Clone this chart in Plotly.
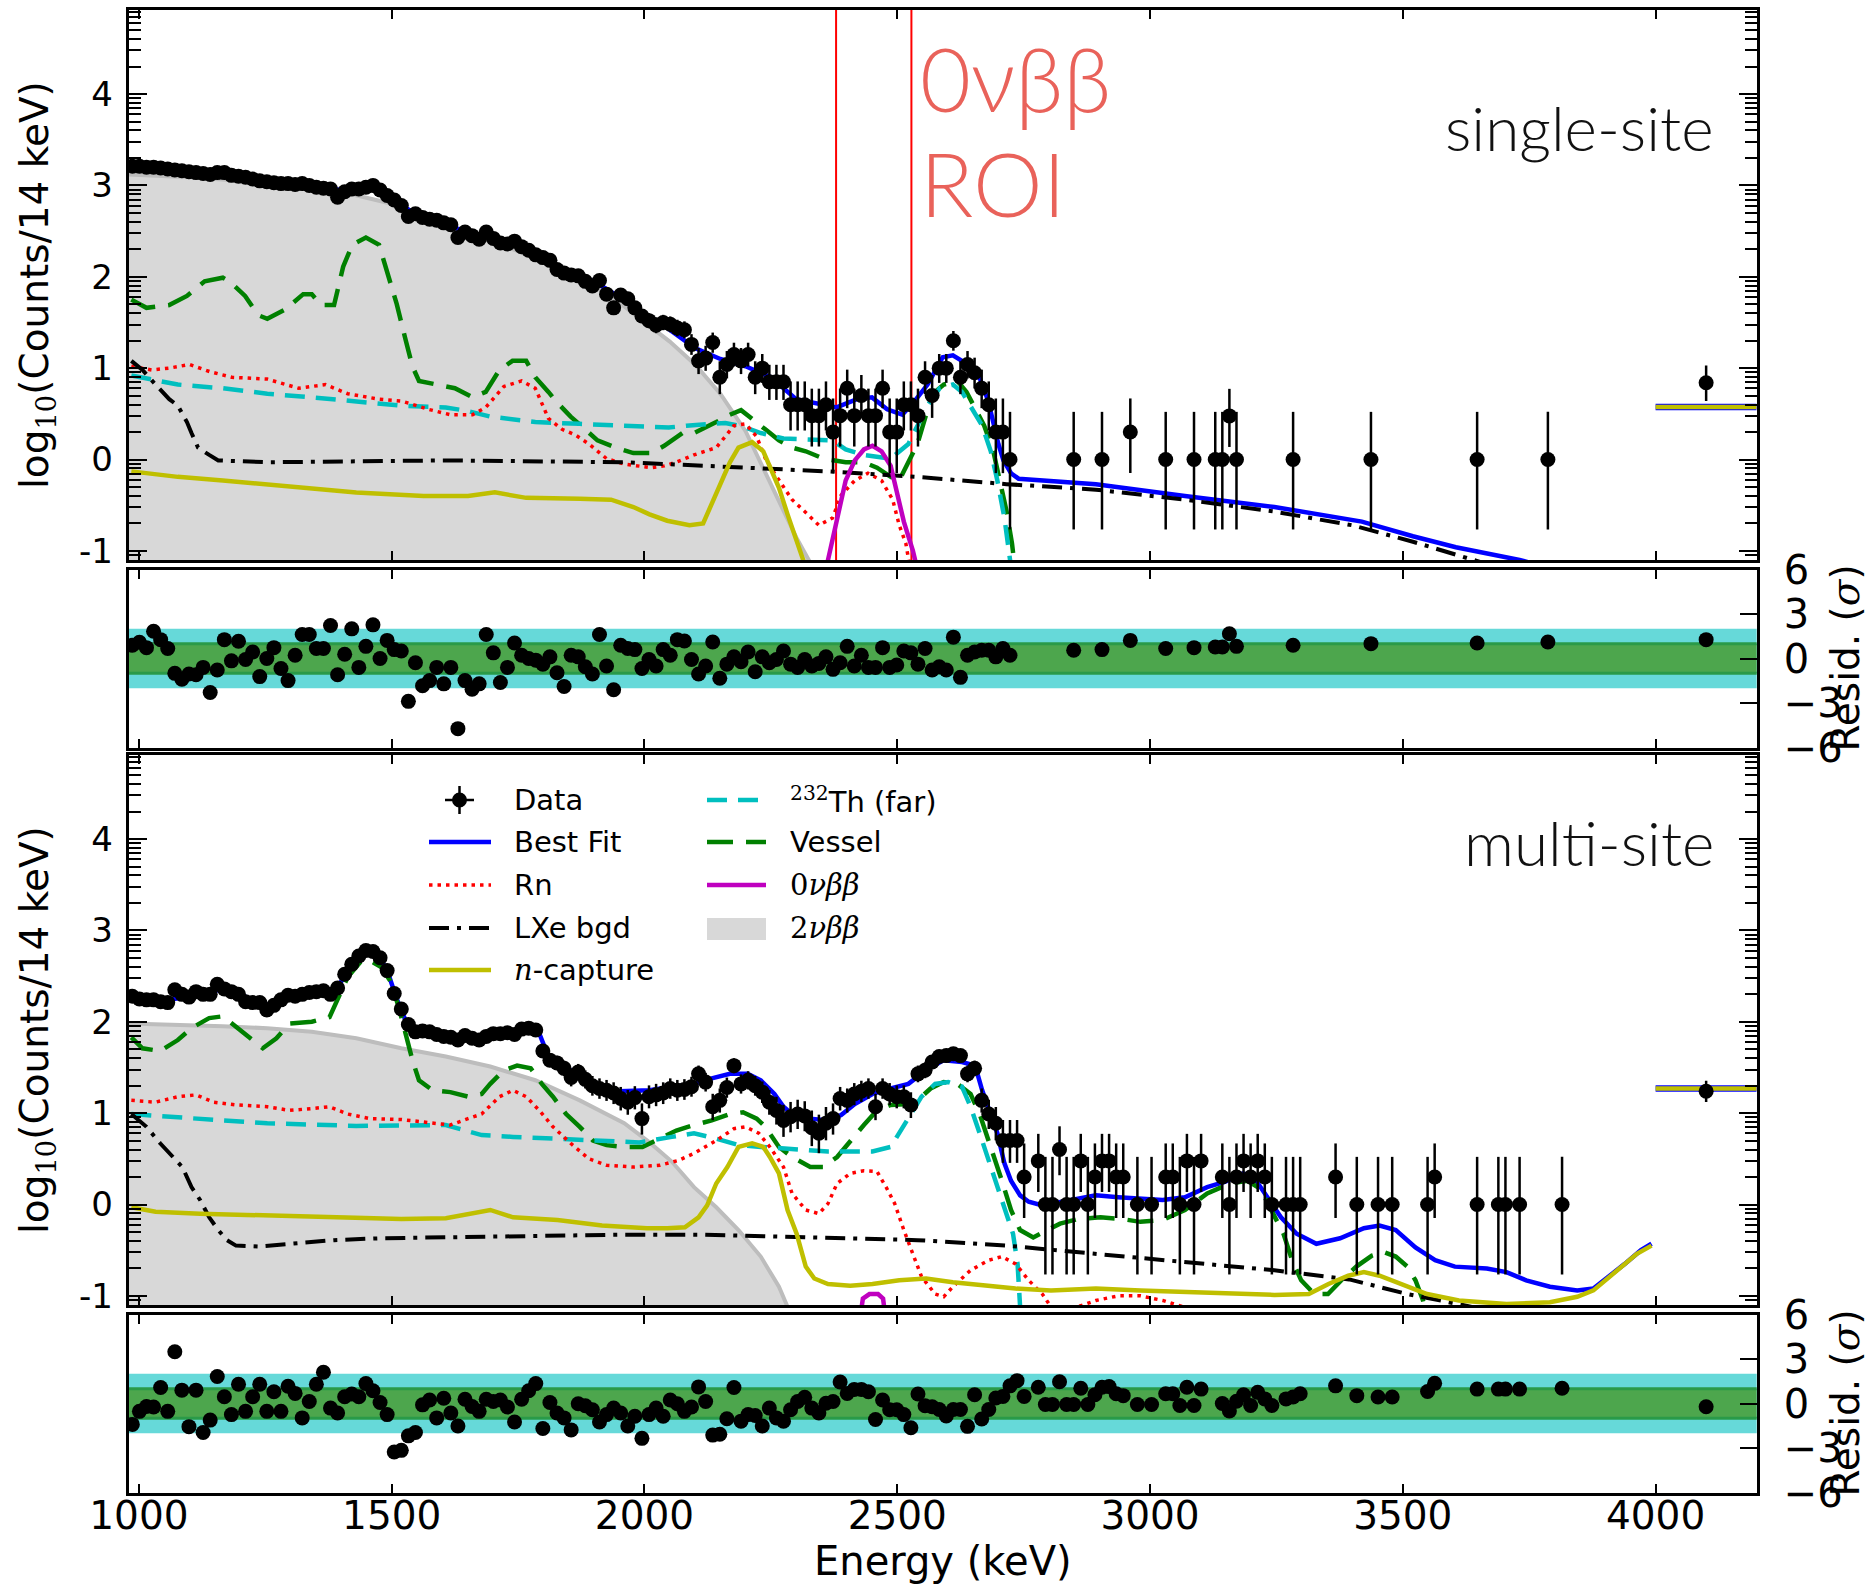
import numpy as np
import plotly.graph_objects as go

W, H = 1870, 1584

# ---------------- axis / binning values ----------------
E_RANGE = [980, 4200]
LOG_RANGE = [-1.1, 4.92]
RES_RANGE = [-6, 6]
X_TICKS = [1000, 1500, 2000, 2500, 3000, 3500, 4000]
Y_TICKS = [-1, 0, 1, 2, 3, 4]
Y_TICKTEXT = ['-1', '0', '1', '2', '3', '4']
RES_TICKS = [-6, -3, 0, 3, 6]
RES_TICKTEXT = ['\u22126', '\u22123', '0', '3', '6']
BIN_START = 987
BIN_WIDTH = 14
ROI = [2379, 2528]
OVF_E = [4000, 4200]
OVF_CENTER = 4100

# ---------------- single-site data ----------------
SS_DENSE = [3.21, 3.21, 3.20, 3.20, 3.19, 3.18, 3.17, 3.16, 3.15, 3.14,
            3.13, 3.12, 3.14, 3.14, 3.11, 3.10, 3.09, 3.07, 3.05, 3.04,
            3.03, 3.02, 3.02, 3.01, 3.02, 3.00, 2.98, 2.97, 2.96, 2.87,
            2.93, 2.96, 2.96, 2.98, 3.00, 2.95, 2.89, 2.84, 2.78, 2.66,
            2.69, 2.65, 2.63, 2.62, 2.59, 2.57, 2.43, 2.49, 2.45, 2.41,
            2.49, 2.42, 2.37, 2.36, 2.39, 2.33, 2.29, 2.24, 2.21, 2.18,
            2.08, 2.04, 2.02, 2.01, 1.95, 1.90, 1.96, 1.81, 1.66, 1.80,
            1.76, 1.66, 1.57, 1.52, 1.47, 1.50, 1.48, 1.44, 1.42, 1.26,
            1.08, 1.11, 1.28, 0.90, 1.04, 1.15, 1.08, 1.15, 0.90, 1.00,
            0.85, 0.85, 0.85, 0.60, 0.60, 0.60, 0.48, 0.48, 0.60, 0.30,
            0.48, 0.78, 0.48, 0.70, 0.48, 0.48, 0.78, 0.30, 0.30, 0.60,
            0.60, 0.48, 0.90, 0.70, 1.00, 1.00, 1.30, 0.90, 1.04, 0.95,
            0.78, 0.60, 0.30, 0.30, 0.00]
SS_RES_DENSE = [0.89, 1.1, 0.73, 1.84, 1.27, 0.67, -1.0, -1.4, -1.04, -1.1,
                -0.6, -2.29, -0.78, 1.27, -0.16, 1.16, -0.07, 0.44, -1.22, 0,
                0.73, -0.67, -1.49, 0.22, 1.62, 1.62, 0.67, 0.67, 2.22, -1.1,
                0.29, 2.0, -0.6, 0.82, 2.27, 0, 1.22, 0.6, 0.51, -2.89,
                -0.29, -1.84, -1.49, -0.6, -1.71, -0.6, -4.73, -1.49, -2.07, -1.71,
                1.62, 0.38, -1.62, -0.6, 1.04, 0.22, 0, -0.11, -0.38, 0.11,
                -0.96, -1.89, 0.22, 0.11, -0.56, -1.04, 1.62, -0.51, -2.11, 0.89,
                0.67, 0.6, -0.67, -0.07, -0.51, 0.6, 0.22, 1.27, 1.18, -0.07,
                -1.04, -0.51, 1.11, -1.33, -0.38, 0.11, -0.22, 0.44, -0.89, 0.11,
                -0.29, -0.07, 0.51, -0.38, -0.6, -0.07, -0.51, -0.33, 0.11, -0.73,
                -0.29, 0.82, -0.51, 0.22, -0.6, -0.6, 0.73, -0.6, -0.44, 0.51,
                0.38, -0.38, 0.67,
                -0.78, -0.56, -0.78, 1.44, -1.27, 0.22, 0.44, 0.56, 0.56, 0.11, 0.67, 0.22]
SS_SPARSE_E = [2849, 2905, 2961, 3031, 3087, 3129, 3143, 3157, 3171, 3283, 3437, 3647, 3787]
SS_SPARSE_V = [0, 0, 0.301, 0, 0, 0, 0, 0.477, 0, 0, 0, 0, 0]
SS_SPARSE_RES = [0.56, 0.6, 1.22, 0.67, 0.73, 0.78, 0.78, 1.67, 0.82, 0.89, 1.0, 1.04, 1.11]
SS_OVF_V = 0.84
SS_OVF_RES = 1.27
SS_OVF_MODEL = 0.575

# ---------------- single-site model components ----------------
SS_BEST_E = [980, 1050, 1100, 1150, 1200, 1250, 1300, 1350, 1400, 1430, 1460, 1490, 1520, 1550, 1600,
             1650, 1700, 1750, 1800, 1850, 1900, 1950, 2000, 2040, 2100, 2150, 2200, 2250, 2300, 2350,
             2380, 2420, 2450, 2480, 2510, 2530, 2560, 2590, 2610, 2640, 2660, 2680, 2700, 2710, 2725,
             2740, 2893, 3069, 3246, 3419, 3520, 3605, 3731, 3800]
SS_BEST_V = [3.21, 3.19, 3.16, 3.13, 3.10, 3.06, 3.02, 2.99, 2.95, 2.96, 2.98, 2.90, 2.78, 2.68, 2.59,
             2.49, 2.42, 2.34, 2.21, 2.05, 1.95, 1.78, 1.57, 1.46, 1.22, 1.10, 1.02, 0.90, 0.66, 0.60,
             0.57, 0.66, 0.68, 0.55, 0.49, 0.61, 0.82, 1.12, 1.14, 1.04, 0.94, 0.64, 0.17, -0.01, -0.15,
             -0.21, -0.27, -0.40, -0.52, -0.68, -0.84, -0.96, -1.10, -1.20]
SS_2NU_E = [980, 1100, 1200, 1300, 1400, 1450, 1500, 1550, 1600, 1650, 1700, 1750, 1800, 1850, 1900,
            1950, 2000, 2050, 2100, 2150, 2200, 2250, 2300, 2340]
SS_2NU_V = [3.12, 3.09, 3.05, 3.00, 2.93, 2.87, 2.80, 2.68, 2.57, 2.47, 2.38, 2.28, 2.16, 2.03, 1.90,
            1.72, 1.50, 1.29, 1.04, 0.72, 0.31, -0.28, -0.85, -1.25]
SS_VES_E = [985, 1015, 1060, 1095, 1130, 1166, 1179, 1210, 1236, 1254, 1289, 1325, 1342, 1360, 1386,
            1404, 1422, 1449, 1475, 1492, 1510, 1528, 1541, 1554, 1589, 1625, 1660, 1686, 1713, 1739,
            1766, 1784, 1810, 1828, 1854, 1881, 1907, 1943, 1978, 2013, 2039, 2075, 2098, 2142, 2169,
            2191, 2213, 2239, 2266, 2292, 2319, 2354, 2398, 2434, 2460, 2487, 2504, 2522, 2540, 2557,
            2575, 2592, 2619, 2637, 2654, 2672, 2690, 2703, 2716, 2727, 2735]
SS_VES_V = [1.75, 1.66, 1.69, 1.79, 1.95, 1.99, 1.95, 1.79, 1.58, 1.54, 1.64, 1.81, 1.81, 1.69, 1.69,
            2.11, 2.35, 2.43, 2.35, 2.03, 1.70, 1.30, 1.02, 0.86, 0.82, 0.78, 0.68, 0.74, 0.98, 1.08,
            1.08, 0.90, 0.74, 0.62, 0.47, 0.33, 0.21, 0.13, 0.07, 0.07, 0.15, 0.29, 0.29, 0.41, 0.49,
            0.54, 0.45, 0.33, 0.21, 0.13, 0.09, 0.01, -0.03, -0.03, -0.09, -0.19, -0.23, -0.03, 0.17, 0.49,
            0.74, 0.82, 0.86, 0.74, 0.57, 0.37, 0.09, -0.23, -0.56, -0.92, -1.3]
SS_TH_E = [985, 1077, 1166, 1254, 1342, 1430, 1519, 1607, 1651, 1695, 1784, 1872, 1960, 2048, 2083,
           2120, 2160, 2195, 2230, 2275, 2328, 2372, 2398, 2434, 2487, 2522, 2540, 2557, 2584, 2610,
           2628, 2646, 2668, 2685, 2698, 2712, 2720, 2728]
SS_TH_V = [0.92, 0.82, 0.78, 0.72, 0.68, 0.64, 0.59, 0.57, 0.53, 0.47, 0.41, 0.39, 0.37, 0.35, 0.37,
           0.38, 0.40, 0.36, 0.29, 0.23, 0.22, 0.21, 0.11, 0.05, 0.01, 0.17, 0.37, 0.57, 0.78, 0.82,
           0.74, 0.57, 0.37, 0.09, -0.23, -0.64, -1.04, -1.3]
SS_RN_E = [985, 1025, 1060, 1100, 1141, 1184, 1254, 1316, 1369, 1413, 1475, 1519, 1572, 1616, 1660,
           1686, 1722, 1757, 1784, 1810, 1837, 1863, 1890, 1925, 1960, 2013, 2039, 2063, 2098, 2142,
           2177, 2200, 2222, 2240, 2257, 2292, 2319, 2345, 2372, 2389, 2416, 2442, 2469, 2491, 2504,
           2517, 2522, 2530]
SS_RN_V = [1.02, 0.98, 1.00, 1.04, 0.96, 0.90, 0.88, 0.78, 0.82, 0.72, 0.66, 0.64, 0.55, 0.49, 0.49,
           0.57, 0.80, 0.86, 0.78, 0.45, 0.33, 0.27, 0.17, 0.01, -0.05, -0.09, -0.07, -0.03, 0.05, 0.13,
           0.37, 0.39, 0.25, 0.0, -0.15, -0.44, -0.58, -0.72, -0.64, -0.39, -0.23, -0.15, -0.23, -0.44, -0.72,
           -0.92, -1.08, -1.3]
SS_0NU_E = [2355, 2363, 2372, 2385, 2398, 2416, 2434, 2451, 2469, 2487, 2500, 2513, 2531, 2544]
SS_0NU_V = [-1.3, -1.1, -0.84, -0.54, -0.23, -0.01, 0.11, 0.15, 0.09, -0.07, -0.36, -0.68, -1.0, -1.3]
SS_NCAP_E = [985, 1077, 1166, 1254, 1342, 1430, 1563, 1651, 1704, 1766, 1872, 1934, 1978, 2010, 2045,
             2089, 2116, 2142, 2169, 2186, 2213, 2235, 2248, 2266, 2283, 2301, 2314, 2325]
SS_NCAP_V = [-0.13, -0.19, -0.23, -0.27, -0.31, -0.36, -0.40, -0.40, -0.36, -0.42, -0.43, -0.44, -0.52, -0.60, -0.67,
             -0.72, -0.70, -0.36, -0.03, 0.13, 0.19, 0.09, -0.07, -0.31, -0.60, -0.88, -1.10, -1.40]
SS_LXE_E = [985, 1007, 1033, 1060, 1077, 1095, 1104, 1117, 1139, 1157, 1254, 1607, 1960, 2186, 2363,
            2540, 2716, 2893, 3069, 3246, 3400, 3520, 3630, 3700]
SS_LXE_V = [1.08, 0.98, 0.82, 0.66, 0.59, 0.41, 0.29, 0.13, 0.05, -0.01, -0.03, -0.01, -0.03, -0.08, -0.13,
            -0.19, -0.27, -0.33, -0.44, -0.57, -0.72, -0.90, -1.08, -1.2]

# ---------------- multi-site data ----------------
MS_DENSE = [2.28, 2.25, 2.24, 2.24, 2.22, 2.21, 2.35, 2.30, 2.27, 2.33,
            2.30, 2.30, 2.41, 2.36, 2.33, 2.30, 2.22, 2.21, 2.21, 2.13,
            2.18, 2.24, 2.29, 2.28, 2.30, 2.32, 2.33, 2.34, 2.30, 2.37,
            2.52, 2.63, 2.72, 2.78, 2.77, 2.70, 2.56, 2.31, 2.14, 1.97,
            1.89, 1.90, 1.89, 1.86, 1.84, 1.83, 1.80, 1.85, 1.82, 1.80,
            1.84, 1.87, 1.87, 1.88, 1.86, 1.92, 1.93, 1.91, 1.68, 1.58,
            1.55, 1.49, 1.39, 1.45, 1.37, 1.30, 1.27, 1.25, 1.22, 1.16,
            1.12, 1.17, 0.94, 1.18, 1.20, 1.22, 1.27, 1.25, 1.26, 1.29,
            1.43, 1.34, 1.07, 1.14, 1.28, 1.52, 1.32, 1.36, 1.30, 1.23,
            1.12, 1.03, 0.92, 0.96, 0.99, 0.97, 0.84, 0.78, 0.89, 0.94,
            1.16, 1.14, 1.21, 1.24, 1.27, 1.07, 1.27, 1.21, 1.18, 1.18,
            1.09, 1.43, 1.47, 1.56, 1.62, 1.63, 1.65, 1.63, 1.43, 1.49,
            1.14, 0.99, 0.89, 0.70, 0.70, 0.70]
MS_RES_DENSE = [-1.41, -0.53, -0.2, -0.24, 1.08, -0.53, 3.49, 0.9, -1.56, 0.9,
                -1.96, -1.12, 1.82, 0.46, -0.75, 1.3, -0.53, 0.46, 1.3, -0.53,
                0.79, -0.53, 1.16, 0.68, -0.97, 0.13, 1.3, 2.11, -0.31, -0.64,
                0.46, 0.64, 0.46, 1.34, 0.86, 0.07, -0.75, -3.27, -3.16, -2.18,
                -1.96, -0.09, 0.24, -0.97, 0.35, -0.64, -1.52, 0.29, -0.2, -0.53,
                0.29, 0.13, 0.24, -0.24, -1.25, 0.29, 0.86, 1.34, -1.69, 0.07,
                -0.64, -0.97, -1.78, -0.02, -0.15, -0.42, -1.25, -0.75, -0.31, -0.64,
                -1.52, -0.86, -2.35, -0.75, -0.31, -0.86, 0.24, -0.02, -0.53, -0.24,
                1.12, 0.13, -2.13, -2.07, -1.03, 1.08, -1.19, -0.75, -0.81, -1.52,
                -0.31, -0.97, -1.19, -0.42, 0.13, 0.42, -0.31, -0.64, 0.02, 0.13,
                1.45, 0.68, 0.95, 0.95, 0.79, -1.08, 0.24, -0.42, -0.42, -0.75,
                -1.63, 0.64, -0.15,
                -0.22, -0.4, -0.84, -0.4, -0.4, -1.54, 0.59, -1.05, -0.4, 0.37, 0.48, 1.19, 1.54]
MS_SPARSE_E = [2751, 2779, 2793, 2807, 2821, 2835, 2849, 2863, 2877, 2891, 2905, 2919, 2933, 2947, 2975,
               3003, 3031, 3045, 3059, 3073, 3087, 3101, 3143, 3157, 3171, 3185, 3199, 3213, 3227, 3241,
               3269, 3283, 3297, 3367, 3409, 3451, 3479, 3549, 3563, 3647, 3689, 3703, 3731, 3815]
MS_SPARSE_V = [0.301, 0.477, 0, 0, 0.602, 0, 0, 0.477, 0, 0.301, 0.477, 0.477, 0.301, 0.301, 0,
               0, 0.301, 0.301, 0, 0.477, 0, 0.477, 0.301, 0, 0.301, 0.477, 0.301, 0.477, 0.301, 0,
               0, 0, 0, 0.301, 0, 0, 0, 0, 0.301, 0, 0, 0, 0, 0]
MS_SPARSE_RES = [0.48, 1.1, -0.07, -0.07, 1.47, -0.07, -0.07, 1.03, -0.07, 0.59, 1.1, 1.14, 0.66, 0.53, -0.07,
                 -0.07, 0.66, 0.66, -0.13, 1.1, -0.13, 0.97, 0, -0.51, 0.15, 0.59, -0.13, 0.75, 0.31, -0.13,
                 0.31, 0.44, 0.66, 1.19, 0.53, 0.44, 0.44, 0.81, 1.36, 0.97, 0.97, 0.97, 0.97, 1.03]
MS_OVF_V = 1.24
MS_OVF_RES = -0.22
MS_OVF_MODEL = 1.27

# ---------------- multi-site model components ----------------
MS_BEST_E = [980, 1050, 1100, 1160, 1200, 1250, 1300, 1350, 1390, 1420, 1450, 1470, 1490, 1510, 1530,
             1550, 1600, 1650, 1700, 1750, 1790, 1810, 1850, 1900, 1950, 2010, 2054, 2098, 2133, 2169,
             2204, 2230, 2257, 2275, 2292, 2328, 2363, 2389, 2416, 2451, 2487, 2522, 2557, 2592, 2628,
             2654, 2668, 2681, 2698, 2712, 2725, 2743, 2760, 2787, 2849, 2893, 2937, 2981, 3025, 3069,
             3113, 3149, 3184, 3205, 3228, 3259, 3290, 3329, 3376, 3423, 3454, 3486, 3525, 3564, 3603,
             3666, 3705, 3744, 3791, 3845, 3877, 3908, 3939, 3971, 3992]
MS_BEST_V = [2.28, 2.23, 2.28, 2.35, 2.30, 2.18, 2.27, 2.32, 2.36, 2.60, 2.76, 2.74, 2.58, 2.25, 1.98,
             1.90, 1.86, 1.83, 1.86, 1.90, 1.90, 1.62, 1.48, 1.33, 1.24, 1.25, 1.29, 1.32, 1.38, 1.43,
             1.43, 1.36, 1.21, 1.07, 0.99, 0.94, 0.92, 0.98, 1.10, 1.21, 1.27, 1.32, 1.47, 1.58, 1.56,
             1.52, 1.25, 1.03, 0.78, 0.45, 0.26, 0.10, 0.03, -0.01, 0.05, 0.10, 0.08, 0.06, 0.05, 0.08,
             0.19, 0.25, 0.34, 0.30, 0.12, -0.14, -0.32, -0.43, -0.37, -0.26, -0.23, -0.28, -0.47, -0.61, -0.68,
             -0.70, -0.74, -0.83, -0.90, -0.94, -0.92, -0.79, -0.65, -0.50, -0.43]
MS_2NU_E = [980, 1077, 1166, 1254, 1342, 1430, 1519, 1607, 1695, 1784, 1872, 1960, 2010, 2054, 2098,
            2142, 2186, 2230, 2266, 2283, 2295]
MS_2NU_V = [1.98, 1.97, 1.95, 1.93, 1.89, 1.82, 1.71, 1.62, 1.51, 1.36, 1.14, 0.89, 0.68, 0.47, 0.19,
            -0.03, -0.28, -0.57, -0.90, -1.12, -1.4]
MS_VES_E = [985, 1007, 1042, 1077, 1104, 1139, 1166, 1192, 1219, 1245, 1272, 1298, 1342, 1377, 1395,
            1413, 1439, 1457, 1479, 1497, 1514, 1528, 1541, 1554, 1581, 1616, 1651, 1678, 1695, 1722,
            1748, 1775, 1797, 1819, 1845, 1872, 1898, 1925, 1960, 1996, 2036, 2063, 2098, 2133, 2169,
            2195, 2222, 2239, 2266, 2292, 2328, 2354, 2381, 2407, 2434, 2460, 2487, 2522, 2548, 2566,
            2592, 2619, 2645, 2663, 2676, 2690, 2707, 2725, 2743, 2769, 2796, 2822, 2857, 2902, 2946,
            2981, 3025, 3069, 3113, 3158, 3193, 3219, 3237, 3264, 3281, 3299, 3325, 3352, 3378, 3408,
            3439, 3462, 3486, 3509, 3525, 3540, 3550]
MS_VES_V = [1.83, 1.71, 1.68, 1.80, 1.93, 2.04, 2.06, 1.94, 1.83, 1.71, 1.82, 1.98, 2.00, 2.05, 2.27,
            2.49, 2.66, 2.67, 2.60, 2.45, 2.16, 1.87, 1.58, 1.36, 1.25, 1.23, 1.18, 1.21, 1.32, 1.47,
            1.52, 1.49, 1.32, 1.18, 0.99, 0.85, 0.70, 0.65, 0.63, 0.63, 0.74, 0.81, 0.87, 0.92, 0.99,
            1.01, 0.94, 0.85, 0.63, 0.52, 0.41, 0.41, 0.52, 0.70, 0.87, 1.03, 1.09, 1.10, 1.18, 1.27,
            1.34, 1.32, 1.21, 0.99, 0.78, 0.56, 0.26, -0.06, -0.28, -0.36, -0.28, -0.21, -0.16, -0.14, -0.16,
            -0.19, -0.17, -0.06, 0.12, 0.23, 0.26, 0.17, -0.03, -0.32, -0.61, -0.83, -0.98, -0.98, -0.83, -0.68,
            -0.56, -0.52, -0.57, -0.68, -0.83, -1.05, -1.3]
MS_TH_E = [985, 1077, 1166, 1254, 1342, 1430, 1607, 1642, 1678, 1740, 1828, 1916, 1990, 2054, 2098,
           2142, 2186, 2230, 2275, 2319, 2363, 2407, 2451, 2487, 2504, 2522, 2548, 2575, 2601, 2628,
           2645, 2663, 2681, 2698, 2716, 2729, 2738, 2743, 2746]
MS_TH_V = [0.99, 0.95, 0.92, 0.89, 0.87, 0.86, 0.87, 0.81, 0.76, 0.74, 0.72, 0.70, 0.68, 0.74, 0.78,
           0.72, 0.65, 0.63, 0.61, 0.59, 0.58, 0.58, 0.58, 0.63, 0.78, 0.96, 1.18, 1.32, 1.34, 1.29,
           1.07, 0.78, 0.48, 0.19, -0.10, -0.32, -0.65, -1.12, -1.4]
MS_RN_E = [985, 1033, 1077, 1113, 1148, 1192, 1254, 1298, 1342, 1377, 1413, 1457, 1519, 1572, 1616,
           1651, 1678, 1713, 1740, 1766, 1792, 1819, 1854, 1890, 1925, 1978, 2031, 2066, 2098, 2142,
           2177, 2200, 2226, 2248, 2275, 2292, 2319, 2345, 2363, 2381, 2407, 2434, 2460, 2478, 2495,
           2513, 2531, 2548, 2575, 2592, 2610, 2645, 2681, 2707, 2734, 2760, 2787, 2804, 2815,
           2845, 2857, 2893, 2937, 2981, 3025, 3065, 3080]
MS_RN_V = [1.14, 1.12, 1.18, 1.20, 1.12, 1.09, 1.07, 1.03, 1.05, 1.07, 0.99, 0.94, 0.93, 0.90, 0.87,
           0.94, 0.99, 1.18, 1.25, 1.18, 1.03, 0.85, 0.67, 0.50, 0.43, 0.41, 0.43, 0.48, 0.56, 0.70,
           0.83, 0.85, 0.78, 0.63, 0.41, 0.12, -0.06, -0.10, 0.01, 0.23, 0.34, 0.37, 0.36, 0.19, 0.01,
           -0.28, -0.54, -0.79, -0.98, -1.01, -0.90, -0.72, -0.61, -0.57, -0.65, -0.83, -0.98, -1.12, -1.3,
           -1.3, -1.12, -1.05, -1.0, -1.0, -1.05, -1.12, -1.3]
MS_0NU_E = [2425, 2432, 2445, 2462, 2472, 2478]
MS_0NU_V = [-1.3, -1.03, -0.98, -0.98, -1.03, -1.3]
MS_NCAP_E = [985, 1033, 1121, 1254, 1386, 1519, 1607, 1651, 1695, 1740, 1828, 1916, 2005, 2045, 2080,
             2107, 2124, 2142, 2164, 2186, 2213, 2235, 2248, 2266, 2283, 2301, 2319, 2336, 2363, 2407,
             2451, 2504, 2557, 2610, 2672, 2734, 2804, 2893, 2981, 3069, 3158, 3246, 3314, 3353, 3392,
             3423, 3454, 3494, 3548, 3611, 3705, 3791, 3845, 3877, 3900, 3931, 3963, 3992]
MS_NCAP_V = [-0.03, -0.08, -0.10, -0.12, -0.14, -0.16, -0.15, -0.10, -0.06, -0.14, -0.17, -0.23, -0.26, -0.26, -0.25,
             -0.14, -0.01, 0.23, 0.41, 0.63, 0.67, 0.63, 0.52, 0.34, -0.06, -0.32, -0.68, -0.81, -0.87, -0.89,
             -0.87, -0.83, -0.81, -0.85, -0.89, -0.92, -0.94, -0.92, -0.94, -0.96, -0.98, -0.99, -0.98, -0.87, -0.78,
             -0.74, -0.78, -0.87, -0.98, -1.05, -1.09, -1.07, -1.01, -0.94, -0.83, -0.68, -0.54, -0.45]
MS_LXE_E = [985, 1015, 1042, 1068, 1086, 1104, 1121, 1139, 1157, 1174, 1192, 1236, 1298, 1386, 1475,
            1607, 1784, 1960, 2108, 2275, 2540, 2716, 2893, 3069, 3246, 3394, 3509, 3619, 3700]
MS_LXE_V = [0.99, 0.85, 0.67, 0.52, 0.41, 0.19, 0.05, -0.14, -0.28, -0.39, -0.45, -0.46, -0.43, -0.39, -0.37,
            -0.36, -0.34, -0.33, -0.33, -0.35, -0.39, -0.45, -0.54, -0.63, -0.72, -0.82, -0.98, -1.10, -1.2]

# ---------------- styles ----------------
C_BLUE, C_GREEN, C_RED, C_CYAN = '#0000FF', '#008000', '#FF0000', '#00BFBF'
C_MAG, C_YEL, C_BLACK = '#BF00BF', '#BFBF00', '#000000'
C_GRAY_FILL, C_GRAY_EDGE = '#D8D8D8', '#BDBDBD'
C_BAND2, C_BAND1, C_BAND1_EDGE = '#66D9D9', '#4DA64D', '#2A9A48'
C_ROI_TEXT = '#E9625A'
LW = 4.5
DASH_TH = '20px,11px'
DASH_VES = '26px,13px'
DASH_RN = '3.5px,5px'
DASH_LXE = '20px,8px,4px,8px'
SANS = 'DejaVu Sans'


def px(x):
    return x / W


def py(y):
    return 1 - y / H


X_DOM = [px(128.8), px(1756.7)]
DOM_TOP = [py(560), py(10)]
DOM_R1 = [py(747.5), py(569.5)]
DOM_MID = [py(1305), py(755)]
DOM_R2 = [py(1492.5), py(1314.5)]
MINOR = [n + float(np.log10(k)) for n in range(-2, 5) for k in range(2, 10)]


def poisson_err(v):
    v = np.asarray(v, float)
    n = 10.0 ** v
    up = n + np.sqrt(n + 0.75) + 1.0
    lo = n * (1 - 1 / (9 * n) - 1 / (3 * np.sqrt(n))) ** 3
    return np.log10(up) - v, v - np.log10(lo)


fig = go.Figure()


def line(x, y, color, xa, ya, dash=None, width=LW):
    fig.add_trace(go.Scatter(x=x, y=y, mode='lines', xaxis=xa, yaxis=ya, showlegend=False,
                             line=dict(color=color, width=width, dash=dash), hoverinfo='skip'))


def panel(xa, ya, rxa, rya, m, dense, res_dense, sp_e, sp_v, sp_res, ovf_v, ovf_res, ovf_model):
    xs = list(m['2nu'][0]) + [m['2nu'][0][-1], m['2nu'][0][0]]
    ys = list(m['2nu'][1]) + [-1.6, -1.6]
    fig.add_trace(go.Scatter(x=xs, y=ys, mode='lines', fill='toself', fillcolor=C_GRAY_FILL,
                             line=dict(width=0), xaxis=xa, yaxis=ya, showlegend=False, hoverinfo='skip'))
    line(m['2nu'][0], m['2nu'][1], C_GRAY_EDGE, xa, ya, width=4)
    line(m['best'][0], m['best'][1], C_BLUE, xa, ya)
    line(OVF_E, [ovf_model, ovf_model], C_BLUE, xa, ya, width=LW + 2)
    line(m['ves'][0], m['ves'][1], C_GREEN, xa, ya, dash=DASH_VES)
    line(m['th'][0], m['th'][1], C_CYAN, xa, ya, dash=DASH_TH)
    line(m['rn'][0], m['rn'][1], C_RED, xa, ya, dash=DASH_RN, width=3.5)
    line(m['lxe'][0], m['lxe'][1], C_BLACK, xa, ya, dash=DASH_LXE, width=4)
    line(m['ncap'][0], m['ncap'][1], C_YEL, xa, ya)
    line(OVF_E, [ovf_model, ovf_model], C_YEL, xa, ya)
    line(m['0nu'][0], m['0nu'][1], C_MAG, xa, ya)
    centers = [BIN_START + BIN_WIDTH * k for k in range(len(dense))]
    dx = centers + list(sp_e) + [OVF_CENTER]
    dy = list(dense) + list(sp_v) + [ovf_v]
    up, dn = poisson_err(dy)
    fig.add_trace(go.Scatter(x=dx, y=dy, mode='markers', xaxis=xa, yaxis=ya, showlegend=False,
                             marker=dict(size=15, color='black'),
                             error_y=dict(type='data', symmetric=False, array=list(up), arrayminus=list(dn),
                                          thickness=2.5, width=0, color='black')))
    ry = list(res_dense) + list(sp_res) + [ovf_res]
    fig.add_trace(go.Scatter(x=dx, y=ry, mode='markers', xaxis=rxa, yaxis=rya, showlegend=False,
                             marker=dict(size=15, color='black')))


SS_MODEL = {'best': (SS_BEST_E, SS_BEST_V), '2nu': (SS_2NU_E, SS_2NU_V), 'ves': (SS_VES_E, SS_VES_V),
            'th': (SS_TH_E, SS_TH_V), 'rn': (SS_RN_E, SS_RN_V), 'lxe': (SS_LXE_E, SS_LXE_V),
            'ncap': (SS_NCAP_E, SS_NCAP_V), '0nu': (SS_0NU_E, SS_0NU_V)}
MS_MODEL = {'best': (MS_BEST_E, MS_BEST_V), '2nu': (MS_2NU_E, MS_2NU_V), 'ves': (MS_VES_E, MS_VES_V),
            'th': (MS_TH_E, MS_TH_V), 'rn': (MS_RN_E, MS_RN_V), 'lxe': (MS_LXE_E, MS_LXE_V),
            'ncap': (MS_NCAP_E, MS_NCAP_V), '0nu': (MS_0NU_E, MS_0NU_V)}

panel('x', 'y', 'x2', 'y2', SS_MODEL, SS_DENSE, SS_RES_DENSE, SS_SPARSE_E, SS_SPARSE_V, SS_SPARSE_RES,
      SS_OVF_V, SS_OVF_RES, SS_OVF_MODEL)
panel('x3', 'y3', 'x4', 'y4', MS_MODEL, MS_DENSE, MS_RES_DENSE, MS_SPARSE_E, MS_SPARSE_V, MS_SPARSE_RES,
      MS_OVF_V, MS_OVF_RES, MS_OVF_MODEL)


def xaxis(anchor, labels):
    return dict(domain=X_DOM, range=E_RANGE, anchor=anchor, showgrid=False, zeroline=False,
                automargin=False, showline=True, linecolor='black', linewidth=3, mirror='ticks',
                ticks='inside', ticklen=9, tickwidth=2, tickcolor='black', tickmode='array',
                tickvals=X_TICKS, showticklabels=labels,
                tickfont=dict(family=SANS, size=39, color='black'), ticklabelstandoff=-13)


def yaxis_main(dom, anchor):
    return dict(domain=dom, range=LOG_RANGE, anchor=anchor, showgrid=False, zeroline=False,
                automargin=False, showline=True, linecolor='black', linewidth=3, mirror='ticks',
                ticks='inside', ticklen=18, tickwidth=2, tickcolor='black', tickmode='array',
                tickvals=Y_TICKS, ticktext=Y_TICKTEXT, tickfont=dict(family=SANS, size=34, color='black'),
                ticklabelstandoff=6,
                minor=dict(tickmode='array', tickvals=MINOR, ticks='inside', ticklen=12,
                           tickwidth=1.5, tickcolor='black'))


def yaxis_res(dom, anchor):
    return dict(domain=dom, range=RES_RANGE, anchor=anchor, side='right', showgrid=False,
                zeroline=False, automargin=False, showline=True, linecolor='black', linewidth=3,
                mirror=True, ticks='inside', ticklen=17, tickwidth=2, tickcolor='black',
                tickmode='array', tickvals=RES_TICKS, ticktext=RES_TICKTEXT,
                tickfont=dict(family=SANS, size=40, color='black'), ticklabelstandoff=16)


shapes = []
for xr, yr in (('x2', 'y2'), ('x4', 'y4')):
    shapes.append(dict(type='rect', xref=xr + ' domain', yref=yr, x0=0, x1=1, y0=-2, y1=2,
                       fillcolor=C_BAND2, line=dict(width=0), layer='below'))
    shapes.append(dict(type='rect', xref=xr + ' domain', yref=yr, x0=0, x1=1, y0=-1, y1=1,
                       fillcolor=C_BAND1, line=dict(width=0), layer='below'))
    for yv in (-1, 1):
        shapes.append(dict(type='line', xref=xr + ' domain', yref=yr, x0=0, x1=1, y0=yv, y1=yv,
                           line=dict(color=C_BAND1_EDGE, width=3), layer='below'))
for e in ROI:
    shapes.append(dict(type='line', xref='x', yref='y domain', x0=e, x1=e, y0=0, y1=1,
                       line=dict(color='#FF0000', width=2), layer='below'))

# ---------------- legend (drawn) ----------------
ROWS = [800, 842, 885, 928, 970]
C1 = (429, 491, 512)
C2 = (707, 766, 788)
leg_lines = [
    (C1, ROWS[1], C_BLUE, None, LW), (C1, ROWS[2], C_RED, DASH_RN, 3.5),
    (C1, ROWS[3], C_BLACK, DASH_LXE, 4), (C1, ROWS[4], C_YEL, None, LW),
    (C2, ROWS[0], C_CYAN, DASH_TH, LW), (C2, ROWS[1], C_GREEN, DASH_VES, LW),
    (C2, ROWS[2], C_MAG, None, LW),
]
for (c, r, col, dash, wd) in leg_lines:
    shapes.append(dict(type='line', xref='paper', yref='paper', x0=px(c[0]), x1=px(c[1]),
                       y0=py(r), y1=py(r), line=dict(color=col, width=wd, dash=dash), layer='above'))
shapes.append(dict(type='rect', xref='paper', yref='paper', x0=px(707), x1=px(766), y0=py(940), y1=py(918),
                   fillcolor=C_GRAY_FILL, line=dict(width=0), layer='above'))
shapes.append(dict(type='line', xref='paper', yref='paper', x0=px(445), x1=px(474), y0=py(800), y1=py(800),
                   line=dict(color='black', width=2.5), layer='above'))
shapes.append(dict(type='line', xref='paper', yref='paper', x0=px(459.5), x1=px(459.5), y0=py(786), y1=py(814),
                   line=dict(color='black', width=2.5), layer='above'))
shapes.append(dict(type='circle', xref='paper', yref='paper', x0=px(452), x1=px(467), y0=py(807.5), y1=py(792.5),
                   fillcolor='black', line=dict(width=0), layer='above'))

SERIF_SPAN = '<span style="font-family:DejaVu Serif">%s</span>'
leg_texts = [
    (C1, ROWS[0], 'Data'), (C1, ROWS[1], 'Best Fit'), (C1, ROWS[2], 'Rn'),
    (C1, ROWS[3], 'LXe bgd'), (C1, ROWS[4], SERIF_SPAN % '<i>n</i>' + '-capture'),
    (C2, ROWS[0], '<sup>' + SERIF_SPAN % '232' + '</sup>Th (far)'), (C2, ROWS[1], 'Vessel'),
    (C2, ROWS[2], SERIF_SPAN % '0<i>\u03bd\u03b2\u03b2</i>'),
    (C2, ROWS[3], SERIF_SPAN % '2<i>\u03bd\u03b2\u03b2</i>'),
]
annotations = []
for (c, r, t) in leg_texts:
    annotations.append(dict(text=t, xref='paper', yref='paper', x=px(c[2]), y=py(r), xanchor='left',
                            yanchor='middle', showarrow=False, font=dict(family=SANS, size=29, color='black')))

LIGHT = dict(family='Lato', size=62, color='#111111', weight=300)
annotations += [
    dict(text='single-site', xref='paper', yref='paper', x=px(1716), y=py(127), xanchor='right',
         yanchor='middle', showarrow=False, font=LIGHT),
    dict(text='multi-site', xref='paper', yref='paper', x=px(1716), y=py(842), xanchor='right',
         yanchor='middle', showarrow=False, font=LIGHT),
    dict(text='0\u03bd\u03b2\u03b2', xref='paper', yref='paper', x=px(918), y=py(78), xanchor='left',
         yanchor='middle', showarrow=False, font=dict(family='Lato', size=88, color=C_ROI_TEXT, weight=300)),
    dict(text='ROI', xref='paper', yref='paper', x=px(918), y=py(183), xanchor='left',
         yanchor='middle', showarrow=False, font=dict(family='Lato', size=88, color=C_ROI_TEXT, weight=300)),
]
YLAB = 'log<sub>' + SERIF_SPAN % '10' + '</sub>(Counts/14 keV)'
RLAB = 'Resid. (' + SERIF_SPAN % '<i>\u03c3</i>' + ')'
for dom in (DOM_TOP, DOM_MID):
    annotations.append(dict(text=YLAB, xref='paper', yref='paper', x=px(37), y=(dom[0] + dom[1]) / 2,
                            xanchor='center', yanchor='middle', textangle=-90, showarrow=False,
                            font=dict(family=SANS, size=39, color='black')))
for dom in (DOM_R1, DOM_R2):
    annotations.append(dict(text=RLAB, xref='paper', yref='paper', x=px(1845), y=(dom[0] + dom[1]) / 2,
                            xanchor='center', yanchor='middle', textangle=-90, showarrow=False,
                            font=dict(family=SANS, size=39, color='black')))
annotations.append(dict(text='Energy (keV)', xref='paper', yref='paper', x=(X_DOM[0] + X_DOM[1]) / 2,
                        y=py(1561), xanchor='center', yanchor='middle', showarrow=False,
                        font=dict(family=SANS, size=40, color='black')))

fig.update_layout(
    template='none',
    width=W, height=H, margin=dict(l=0, r=0, t=0, b=0, autoexpand=False), autosize=False,
    paper_bgcolor='white', plot_bgcolor='white', showlegend=False,
    xaxis=xaxis('y', False), yaxis=yaxis_main(DOM_TOP, 'x'),
    xaxis2=xaxis('y2', False), yaxis2=yaxis_res(DOM_R1, 'x2'),
    xaxis3=xaxis('y3', False), yaxis3=yaxis_main(DOM_MID, 'x3'),
    xaxis4=xaxis('y4', True), yaxis4=yaxis_res(DOM_R2, 'x4'),
    shapes=shapes, annotations=annotations,
    font=dict(family=SANS, color='black'),
)

fig.write_html('out.html')
